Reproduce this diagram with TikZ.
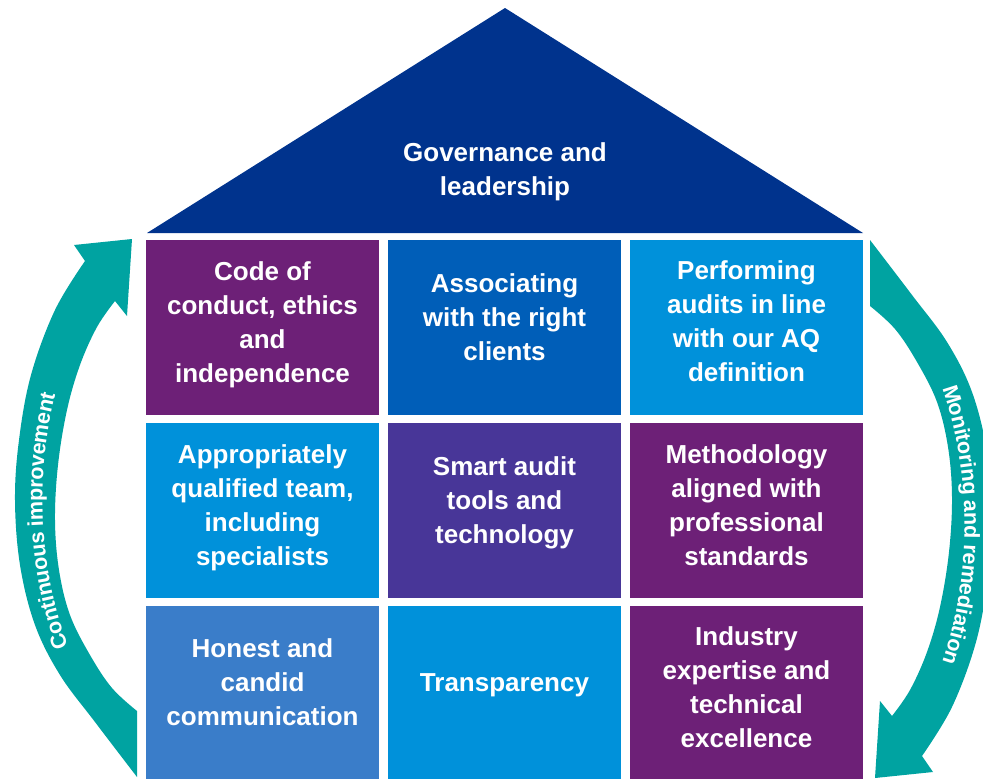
\documentclass[tikz,border=0pt]{standalone}
\usepackage{fontspec}
\setmainfont{Liberation Sans}
\usetikzlibrary{decorations.text}
\definecolor{kroof}{HTML}{00338D}
\definecolor{kpurple}{HTML}{6D2077}
\definecolor{kmid}{HTML}{005EB8}
\definecolor{klight}{HTML}{0091DA}
\definecolor{kviolet}{HTML}{483698}
\definecolor{ksteel}{HTML}{3A7DC9}
\definecolor{kteal}{HTML}{00A3A1}
\begin{document}
\begin{tikzpicture}[x=1pt,y=-1pt,
  label/.style={text=white, align=center, inner sep=0pt,
    font=\bfseries\fontsize{26}{34}\selectfont},
  cell/.style={fill=#1},
  arrowtext/.style={decorate, decoration={text along path, text align=center,
    raise=-7.5pt, text color=white,
    text={|\bfseries\fontsize{21.5}{24}\selectfont|#1}}}]
\useasboundingbox (0,0) rectangle (983,779);
\clip (0,0) rectangle (983,779);

% roof
\coordinate (apex) at (505,8);
\coordinate (eaveL) at (147,233);
\coordinate (eaveR) at (863,233);
\fill[kroof] (apex) -- (eaveR) -- (eaveL) -- cycle;
\node[label] (roof) at (505,171.5) {Governance and\\leadership};

% cells
\fill[cell=kpurple] (146,240) rectangle (379,415);
\fill[cell=kmid]    (388,240) rectangle (621,415);
\fill[cell=klight]  (630,240) rectangle (863,415);
\fill[cell=klight]  (146,423) rectangle (379,598);
\fill[cell=kviolet] (388,423) rectangle (621,598);
\fill[cell=kpurple] (630,423) rectangle (863,598);
\fill[cell=ksteel]  (146,606) rectangle (379,779);
\fill[cell=klight]  (388,606) rectangle (621,779);
\fill[cell=kpurple] (630,606) rectangle (863,779);

\node[label] (c11) at (262.5,324.5) {Code of\\conduct, ethics\\and\\independence};
\node[label] (c12) at (504.5,317) {Associating\\with the right\\clients};
\node[label] (c13) at (746.5,321.5) {Performing\\audits in line\\with our AQ\\definition};
\node[label] (c21) at (262.5,507.5) {Appropriately\\qualified team,\\including\\specialists};
\node[label] (c22) at (504.5,503) {Smart audit\\tools and\\technology};
\node[label] (c23) at (746.5,505) {Methodology\\aligned with\\professional\\standards};
\node[label] (c31) at (262.5,682) {Honest and\\candid\\communication};
\node[label] (c32) at (504.5,685) {Transparency};
\node[label] (c33) at (746.5,687.5) {Industry\\expertise and\\technical\\excellence};

% cycle arrows
\foreach \r in {0,180}{
\fill[kteal, rotate around={\r:(503.5,508.5)}]
  plot[smooth, tension=0.6] coordinates {(137,777) (95,722) (60,675) (35,625) (20,565) (15,500) (19,440) (31,375) (55,310) (85,261)}
  -- (74,245) -- (132,239) -- (127,316) -- (115,301)
  -- plot[smooth, tension=0.6] coordinates {(115,301) (97,327) (80,365) (67,410) (58,465) (55,520) (59,570) (70,615) (90,655) (112,688) (137,711)}
  -- cycle;
}

\path[arrowtext={Continuous improvement}]
  (74.6,680) .. controls (28.7,587.2) and (22.1,462.7) .. (57.8,360.1);
\path[arrowtext={Monitoring and remediation}]
  (941.5,365) .. controls (982.1,462.6) and (982.1,587.4) .. (941.5,685);
\end{tikzpicture}
\end{document}
